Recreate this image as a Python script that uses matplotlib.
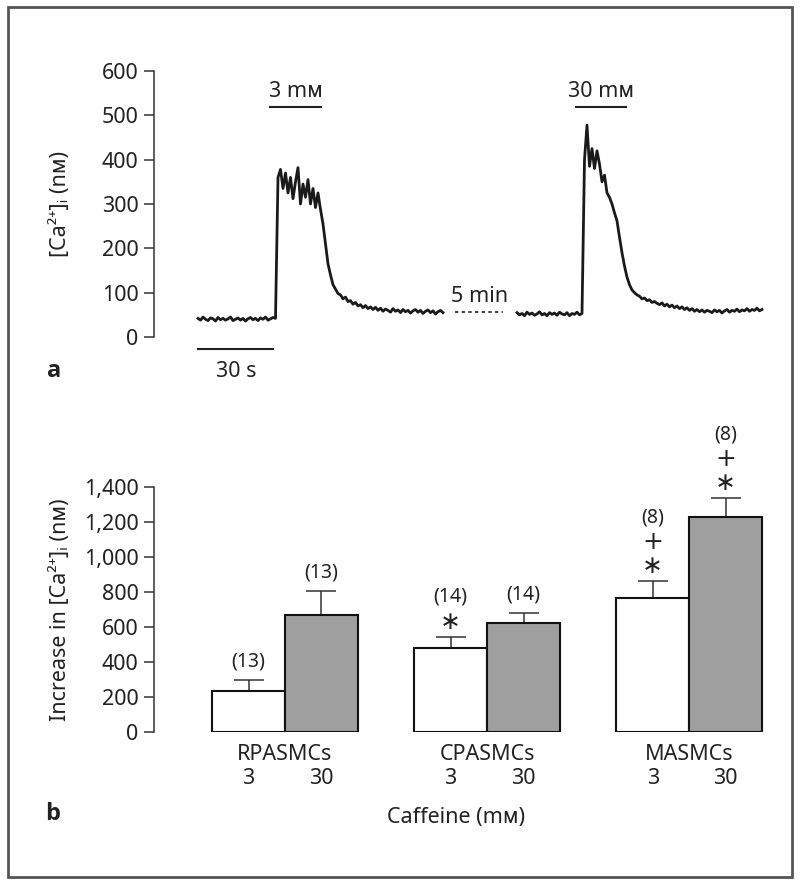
import numpy as np
import matplotlib
matplotlib.use("Agg")
import matplotlib.pyplot as plt
from matplotlib.patches import Rectangle
from matplotlib.ticker import FuncFormatter

plt.rcParams['font.family'] = ['Noto Sans', 'DejaVu Sans']

# ---- panel a: [Ca2+]i traces (nM), one value per second ----
seg1_ca = [42, 38, 45, 40, 37, 43, 41, 36, 44, 39, 42, 38, 41, 45, 37, 40,
           43, 38, 42, 36, 41, 44, 39, 42, 37, 43, 40, 45, 38, 41, 44, 42,
           360, 378, 335, 370, 325, 360, 312, 350, 382, 300, 345, 315, 355,
           300, 335, 292, 325, 288, 255, 210, 165, 140, 118, 108, 98, 95,
           86, 90, 80, 82, 74, 78, 70, 73, 66, 71, 64, 68, 62, 67, 60, 65,
           58, 63, 60, 56, 64, 58, 61, 55, 62, 57, 60, 54, 59, 62, 56, 60,
           53, 58, 61, 55, 59, 52, 57, 60, 55]
seg2_ca = [55, 50, 53, 48, 56, 51, 54, 49, 52, 57, 50, 53, 48, 55, 51, 54,
           49, 56, 52, 50, 55, 48, 53, 51, 56, 50, 53, 400, 478, 385, 425,
           380, 420, 390, 350, 365, 325, 315, 300, 280, 262, 225, 190, 160,
           135, 118, 106, 100, 95, 92, 86, 88, 82, 84, 78, 80, 76, 73, 77,
           70, 74, 68, 72, 66, 70, 64, 68, 62, 66, 60, 64, 58, 62, 57, 61,
           56, 60, 58, 55, 61, 57, 60, 54, 59, 62, 56, 60, 58, 63, 57, 61,
           59, 64, 58, 62, 60, 65, 59, 62]
seg2_offset = 127.6  # s, drawn after the 5 min break
caffeine_bars = {"3 mᴍ": (28.8, 49.2), "30 mᴍ": (151.2, 171.2)}

# ---- panel b: increase in [Ca2+]i (nM) ----
cells = ["RPASMCs", "CPASMCs", "MASMCs"]
doses = ["3", "30"]
mean_3 = [236, 481, 763]
mean_30 = [667, 624, 1230]
sem_3 = [64, 62, 99]
sem_30 = [137, 57, 105]
n_3 = ["(13)", "(14)", "(8)"]
n_30 = ["(13)", "(14)", "(8)"]
marks_3 = ["", "∗", "+\n∗"]
marks_30 = ["", "", "+\n∗"]

W, H = 800, 883
fig = plt.figure(figsize=(W / 100, H / 100), dpi=100)
fig.patches.append(Rectangle((8 / W, 1 - 877 / H), 784 / W, 870 / H,
                             transform=fig.transFigure, fill=False,
                             edgecolor='#555555', linewidth=2))
ink = '#222222'
tfs = 15.5


def px_axes(left, top, right, bottom):
    return fig.add_axes([left / W, 1 - bottom / H, (right - left) / W, (bottom - top) / H])


def style_axis(ax):
    for s in ['top', 'right', 'bottom']:
        ax.spines[s].set_visible(False)
    ax.spines['left'].set_color('#333333')
    ax.spines['left'].set_linewidth(1.1)
    ax.tick_params(axis='y', length=7, width=1.1, color='#333333',
                   labelsize=tfs, pad=4, labelcolor=ink)
    ax.set_xticks([])


# panel a
ax = px_axes(154, 71, 790, 337)
style_axis(ax)
t1 = np.arange(len(seg1_ca))
t2 = np.arange(len(seg2_ca)) + seg2_offset
ax.plot(t1, seg1_ca, color='#1a1a1a', lw=2)
ax.plot(t2, seg2_ca, color='#1a1a1a', lw=2)
ax.set_xlim(-17.6, 236.8)
ax.set_ylim(0, 600)
ax.set_yticks(range(0, 601, 100))
ax.set_ylabel("[Ca²⁺]ᵢ (nᴍ)", fontsize=tfs, color=ink)
ax.yaxis.set_label_coords(-0.13, 0.5)
for label, (x0, x1) in caffeine_bars.items():
    ax.plot([x0, x1], [519, 519], color=ink, lw=1.5, clip_on=False)
    ax.text((x0 + x1) / 2, 541, label, ha='center', va='baseline', fontsize=tfs, color=ink)
ax.plot([0, 30], [-27, -27], color=ink, lw=1.5, clip_on=False)
ax.text(15.2, -90, "30 s", ha='center', va='baseline', fontsize=tfs, color=ink)
ax.plot([102.8, 122], [56, 56], color=ink, lw=1.2, ls=(0, (2, 2)))
ax.text(112.8, 79, "5 min", ha='center', va='baseline', fontsize=tfs, color=ink)
ax.text(-60.4, -90, "a", ha='left', va='baseline', fontsize=17, fontweight='bold',
        family='Open Sans', color=ink)

# panel b
ax = px_axes(154, 487, 790, 732)
style_axis(ax)
centers = np.arange(len(cells)) * 2.77
x3 = centers - 0.5
x30 = centers + 0.5
ax.bar(x3, mean_3, width=1, color='white', edgecolor='#111111', lw=1.5, zorder=3)
ax.bar(x30, mean_30, width=1, color='#9f9f9f', edgecolor='#111111', lw=1.5, zorder=3)
ax.errorbar(x3, mean_3, yerr=[np.zeros(3), sem_3], fmt='none', ecolor='#333333',
            elinewidth=1.1, capsize=11, capthick=1.1, zorder=2)
ax.errorbar(x30, mean_30, yerr=[np.zeros(3), sem_30], fmt='none', ecolor='#333333',
            elinewidth=1.1, capsize=11, capthick=1.1, zorder=2)
ax.set_xlim(-1.795, 6.92)
ax.set_ylim(0, 1400)
ax.set_yticks(range(0, 1401, 200))
ax.yaxis.set_major_formatter(FuncFormatter(lambda v, p: f"{v:,.0f}"))
ax.set_ylabel("Increase in [Ca²⁺]ᵢ (nᴍ)", fontsize=tfs, color=ink)
ax.yaxis.set_label_coords(-0.13, 0.5)

for i in range(len(cells)):
    ax.text(centers[i], -160, cells[i], ha='center', va='baseline', fontsize=tfs, color=ink)
    ax.text(x3[i], -297, doses[0], ha='center', va='baseline', fontsize=tfs, color=ink)
    ax.text(x30[i], -297, doses[1], ha='center', va='baseline', fontsize=tfs, color=ink)
    for xb, top, n, marks in [(x3[i], mean_3[i] + sem_3[i], n_3[i], marks_3[i]),
                              (x30[i], mean_30[i] + sem_30[i], n_30[i], marks_30[i])]:
        rows = marks.count("\n") + 1 if marks else 0
        if rows:
            # symbols stacked above the error bar, one per ~134 nM
            ax.text(xb, top + 88 + 67 * (rows - 1), marks, ha='center', va='center',
                    fontsize=18, family='DejaVu Sans', linespacing=1.0, color=ink)
        y = [top + 105, top + 232, top + 366][rows]
        ax.text(xb, y, n, ha='center', va='center', fontsize=14, color=ink)
ax.text(2.34, -520, "Caffeine (mᴍ)", ha='center', va='baseline', fontsize=tfs, color=ink)
ax.text(-3.18, -503, "b", ha='center', va='baseline', fontsize=17, fontweight='bold',
        family='Open Sans', color=ink)

fig.savefig("out.png", dpi=100)
